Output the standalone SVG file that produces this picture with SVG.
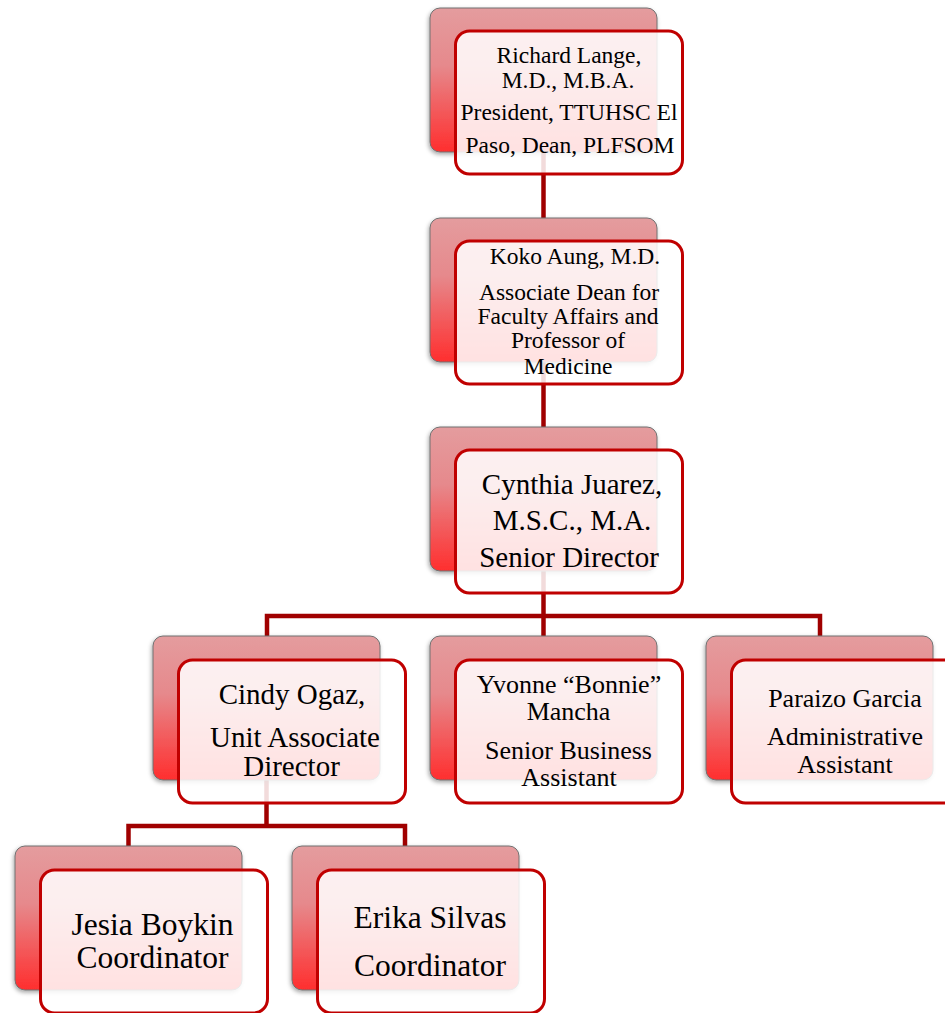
<svg xmlns="http://www.w3.org/2000/svg" width="945" height="1013" viewBox="0 0 945 1013">
<defs>
<linearGradient id="bg" x1="0" y1="0" x2="0" y2="1">
<stop offset="0" stop-color="#E49C9E"/>
<stop offset="0.4" stop-color="#E6898C"/>
<stop offset="1" stop-color="#FF2E2E"/>
</linearGradient>
<filter id="sh" x="-10%" y="-10%" width="120%" height="125%">
<feDropShadow dx="-1" dy="2" stdDeviation="2" flood-color="#000" flood-opacity="0.35"/>
</filter>
</defs>
<style>
.back{fill:url(#bg);stroke:#707070;stroke-width:1;filter:url(#sh)}
.front{fill:#fff;fill-opacity:0.86;stroke:#C00000;stroke-width:3}
.conn{fill:none;stroke:#A00000;stroke-width:4.5}
text{font-family:"Liberation Serif","Times New Roman",serif;fill:#000;text-anchor:middle}
.s1{font-size:23.5px}
.s2{font-size:29px}
.s3{font-size:26px}
.s4{font-size:31.5px}
</style>
<rect width="945" height="1013" fill="#fff"/>
<g id="connectors">
<path class="conn" d="M543.5,80 V640"/>
<path class="conn" d="M267,640 V616 H820 V640"/>
<path class="conn" d="M266.5,780 V826"/>
<path class="conn" d="M128.5,850 V826 H405 V850"/>
</g>
<g id="n1">
<rect class="back" x="430" y="8" width="227" height="144" rx="10"/>
<rect class="front" x="455.5" y="31" width="227" height="143" rx="14"/>
<text class="s1" x="569" y="63">Richard Lange,</text>
<text class="s1" x="568" y="88">M.D., M.B.A.</text>
<text class="s1" x="569" y="120">President, TTUHSC El</text>
<text class="s1" x="570" y="153">Paso, Dean, PLFSOM</text>
</g>
<g id="n2">
<rect class="back" x="430" y="218" width="227" height="144" rx="10"/>
<rect class="front" x="455.5" y="241" width="227" height="143" rx="14"/>
<text class="s1" x="575" y="264">Koko Aung, M.D.</text>
<text class="s1" x="569" y="300">Associate Dean for</text>
<text class="s1" x="568" y="324">Faculty Affairs and</text>
<text class="s1" x="568" y="348">Professor of</text>
<text class="s1" x="568" y="374">Medicine</text>
</g>
<g id="n3">
<rect class="back" x="430" y="427" width="227" height="144" rx="10"/>
<rect class="front" x="455.5" y="450" width="227" height="143" rx="14"/>
<text class="s2" x="572" y="494">Cynthia Juarez,</text>
<text class="s2" x="572" y="530">M.S.C., M.A.</text>
<text class="s2" x="569" y="567">Senior Director</text>
</g>
<g id="n4">
<rect class="back" x="153" y="636" width="227" height="144" rx="10"/>
<rect class="front" x="178.5" y="660" width="227" height="143" rx="14"/>
<text class="s2" x="292" y="704">Cindy Ogaz,</text>
<text class="s2" x="295" y="747">Unit Associate</text>
<text class="s2" x="291.5" y="776">Director</text>
</g>
<g id="n5">
<rect class="back" x="430" y="636" width="227" height="144" rx="10"/>
<rect class="front" x="455.5" y="660" width="227" height="143" rx="14"/>
<text class="s3" x="569" y="693">Yvonne “Bonnie”</text>
<text class="s3" x="568.5" y="720">Mancha</text>
<text class="s3" x="568.5" y="759">Senior Business</text>
<text class="s3" x="569" y="786">Assistant</text>
</g>
<g id="n6">
<rect class="back" x="706" y="636" width="227" height="144" rx="10"/>
<rect class="front" x="731.5" y="660" width="227" height="143" rx="14"/>
<text class="s3" x="845" y="707">Paraizo Garcia</text>
<text class="s3" x="845" y="745">Administrative</text>
<text class="s3" x="845" y="773">Assistant</text>
</g>
<g id="n7">
<rect class="back" x="15" y="846" width="227" height="144" rx="10"/>
<rect class="front" x="40.5" y="870" width="227" height="143" rx="14"/>
<text class="s4" x="152.5" y="935">Jesia Boykin</text>
<text class="s4" x="152.5" y="968">Coordinator</text>
</g>
<g id="n8">
<rect class="back" x="292" y="846" width="227" height="144" rx="10"/>
<rect class="front" x="317.5" y="870" width="227" height="143" rx="14"/>
<text class="s4" x="430" y="928">Erika Silvas</text>
<text class="s4" x="430" y="976">Coordinator</text>
</g>
</svg>
